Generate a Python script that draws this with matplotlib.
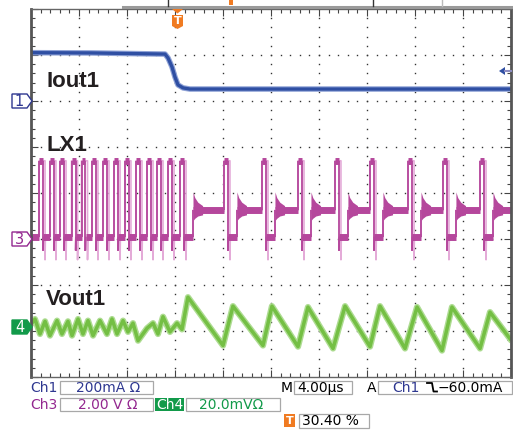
import numpy as np
import matplotlib.pyplot as plt
from matplotlib.collections import LineCollection
from matplotlib.patches import Rectangle, Polygon

W, H = 513, 434

# ---- data (time in us, 4 us/div) ----
# Iout1, ch1 200 mA/div
iout_t = [0.0, 5.0, 11.17, 11.42, 11.75, 12.0, 12.25, 12.67, 13.25, 40.0]
iout_ma = [210, 209, 204, 187, 148, 104, 70, 57, 52, 52]

# LX1, ch3 2 V/div
lx_ccm_rise = [0.67, 1.58, 2.42, 3.38, 4.21, 5.08, 6.0, 6.92, 7.83, 8.75, 9.67, 10.5, 11.42]
lx_dcm_rise = [12.42, 16.08, 19.25, 22.25, 25.33, 28.25, 31.42, 34.33, 37.42]
lx_on_us = 0.33
lx_dcm_low_us = 0.75
lx_high_v = 3.4
lx_low_v = 0.1
lx_idle_v = 1.25
lx_spike_v = -0.5
ring_dt = [0.0, 0.15, 0.4, 0.8]
ring_hi = [2.05, 1.8, 1.6, 1.45]
ring_lo = [0.8, 0.9, 1.0, 1.05]

# Vout1, ch4 20 mV/div
vout_t = [0, 0.33, 0.75, 1.17, 1.58, 2.17, 2.58, 3.08, 3.42, 3.92, 4.33, 4.75, 5.17, 5.75, 6.33,
          6.75, 7.17, 7.67, 8.08, 8.5, 8.92, 9.67, 10.17, 10.58, 11.0, 11.58, 12.17, 12.58, 13.08,
          16.0, 16.83, 19.33, 20.08, 22.25, 23.08, 25.17, 26.17, 28.25, 29.08, 31.17, 32.17,
          34.25, 35.08, 37.42, 38.25, 39.92]
vout_mv = [1.3, 3.6, -2.9, 2.6, -3.6, 2.9, -2.9, 2.6, -3.6, 3.6, -2.9, 2.9, -3.6, 2.9, -2.9,
           3.6, -2.9, 2.9, -2.0, 1.8, -5.8, -0.4, 1.8, -2.9, 4.6, -2.0, 1.8, -0.9, 13.1,
           -7.9, 9.2, -7.9, 9.2, -8.4, 8.8, -9.2, 9.2, -8.4, 9.2, -9.2, 8.8,
           -10.1, 8.8, -9.2, 6.6, -5.0]

# channel positions (div from bottom) and scales
ch1_off, ch1_scale = 6.0, 200.0
ch3_off, ch3_scale = 3.0, 2.0
ch4_off, ch4_scale = 1.08, 20.0

c_blue = '#2F4FA3'
c_mag = '#B5479C'
c_green = '#74BF44'
c_orange = '#F07B22'
c_ch1 = '#2E3790'
c_ch3 = '#93278F'
c_ch4 = '#129A4A'


def build_lx(on, spike):
    t, v = [0.0], [lx_low_v]
    for r in lx_ccm_rise:
        f = r + on
        t += [r, r, f, f, f + 0.03]
        v += [lx_low_v, lx_high_v, lx_high_v, spike, lx_low_v]
    level = lx_low_v
    rings = []
    for r in lx_dcm_rise:
        f = r + on
        s = r + lx_on_us + lx_dcm_low_us
        t += [r, r, f, f, f + 0.03, s, s]
        v += [level, lx_high_v, lx_high_v, spike, lx_low_v, lx_low_v, lx_idle_v]
        level = lx_idle_v
        rings.append(s)
    t.append(40.0)
    v.append(level)
    return np.array(t), np.array(v), rings


fig = plt.figure(figsize=(W / 100, H / 100), dpi=100)
ax = fig.add_axes([31 / W, 1 - 377 / H, 480 / W, 368 / H])
ax.set_xlim(0, 40)
ax.set_ylim(0, 8)

# graticule dots
dy = np.arange(0, 8.01, 0.2)
X, Y = np.meshgrid(np.arange(4, 40, 4), dy)
ax.plot(X.ravel(), Y.ravel(), ls='none', marker='s', ms=1.0, mew=0, color='#333333')
dx = np.arange(0, 40.01, 0.8)
X, Y = np.meshgrid(dx, np.arange(1, 8))
ax.plot(X.ravel(), Y.ravel(), ls='none', marker='s', ms=1.0, mew=0, color='#333333')

ax.set_xticks(np.arange(0, 40.1, 4))
ax.set_xticks(dx, minor=True)
ax.set_yticks(range(9))
ax.set_yticks(dy, minor=True)
ax.tick_params(which='both', direction='in', top=True, right=True,
               labelbottom=False, labelleft=False, color='#444444')
ax.tick_params(which='major', length=5, width=0.8)
ax.tick_params(which='minor', length=3, width=0.8)
for s in ['left', 'right']:
    ax.spines[s].set_linewidth(2)
    ax.spines[s].set_color('#555555')
for s in ['top', 'bottom']:
    ax.spines[s].set_linewidth(1)
    ax.spines[s].set_color('#666666')

# Iout1
iy = ch1_off + np.array(iout_ma) / ch1_scale
ax.plot(iout_t, iy, color='#8FA2D6', lw=4, solid_joinstyle='round')
ax.plot(iout_t, iy, color=c_blue, lw=2.4, solid_joinstyle='round')

# LX1
gt, gv, _ = build_lx(lx_on_us + 0.17, -0.9)
ax.plot(gt, ch3_off + gv / ch3_scale, color='#E4ABD8', lw=1.2)
lt, lv, rings = build_lx(lx_on_us, lx_spike_v)
ly = ch3_off + lv / ch3_scale
pts = np.column_stack([lt, ly])
segs = np.stack([pts[:-1], pts[1:]], axis=1)
lws = np.where(np.isclose(lv[:-1], lv[1:]), 5.0, 1.3)
ax.add_collection(LineCollection(segs, linewidths=lws, colors=c_mag, capstyle='butt'))
for s in rings:
    ax.fill_between(s + np.array(ring_dt), ch3_off + np.array(ring_lo) / ch3_scale,
                    ch3_off + np.array(ring_hi) / ch3_scale, color=c_mag, lw=0)

# Vout1
vy = ch4_off + np.array(vout_mv) / ch4_scale
ax.plot(vout_t, vy, color='#AEDC92', lw=4.5, solid_joinstyle='round')
ax.plot(vout_t, vy, color=c_green, lw=2.5, solid_joinstyle='round')


# ---- figure decorations in pixel coords ----
def fx(x):
    return x / W


def fy(y):
    return 1 - y / H


def line(xs, ys, **kw):
    fig.add_artist(plt.Line2D([fx(x) for x in xs], [fy(y) for y in ys],
                              transform=fig.transFigure, **kw))


def box(x0, y0, x1, y1, **kw):
    fig.add_artist(Rectangle((fx(x0), fy(y1)), (x1 - x0) / W, (y1 - y0) / H,
                             transform=fig.transFigure, **kw))


def poly(p, **kw):
    fig.add_artist(Polygon([(fx(x), fy(y)) for x, y in p], closed=True,
                           transform=fig.transFigure, **kw))


def txt(x, y, s, **kw):
    fig.text(fx(x), fy(y), s, **kw)


# header bar
line([123, 513], [6.5, 6.5], color='#9A9A9A', lw=2.2)
line([168, 168], [0, 6], color='#333333', lw=1)
line([373, 373], [0, 6], color='#333333', lw=1)
line([442, 442], [0, 6], color='#BBBBBB', lw=1)
box(229, 0, 233, 5, facecolor=c_orange, edgecolor='none')

# trigger marker
poly([(172, 9), (183, 9), (177.5, 13.5)], facecolor=c_orange, edgecolor='none')
poly([(172, 15), (183, 15), (183, 26), (177.5, 29), (172, 26)], facecolor=c_orange, edgecolor='none')
txt(177.5, 21.5, 'T', color='white', fontsize=8, fontweight='bold', ha='center', va='center')

# trigger level arrow
poly([(499, 71), (505, 67), (505, 75)], facecolor=c_blue, edgecolor='none')
line([505, 511], [71, 71], color='#8C8CC0', lw=1.5)

# channel markers
mk = dict(fontsize=10.5, ha='center', va='center', family='DejaVu Sans')
poly([(12, 94), (27, 94), (32, 101), (27, 108), (12, 108)], facecolor='white', edgecolor=c_ch1, lw=1)
txt(19.5, 101.5, '1', color=c_ch1, **mk)
poly([(12, 232), (27, 232), (32, 239), (27, 246), (12, 246)], facecolor='white', edgecolor=c_ch3, lw=1)
txt(19.5, 239.5, '3', color=c_ch3, **mk)
poly([(12, 320), (27, 320), (32, 327), (27, 334), (12, 334)], facecolor=c_ch4, edgecolor=c_ch4, lw=1)
txt(19.5, 327.5, '4', color='white', **mk)

# trace labels
lab = dict(fontsize=16, fontweight='bold', family='Liberation Sans', color='#231F20')
txt(46, 87, 'Iout1', **lab)
txt(46, 151, 'LX1', **lab)
txt(46, 305, 'Vout1', **lab)

# readout
rd = dict(fontsize=10, family='DejaVu Sans', va='center')
bx = dict(facecolor='white', edgecolor='#A8A8A8', lw=0.9)
txt(30, 388, 'Ch1', color=c_ch1, **rd)
box(60, 381, 153, 394, **bx)
txt(76, 388, '200mA Ω', color=c_ch1, **rd)
txt(30, 405, 'Ch3', color=c_ch3, **rd)
box(60, 398, 153, 411, **bx)
txt(78, 405, '2.00 V Ω', color=c_ch3, **rd)
box(155, 398, 184, 411, facecolor=c_ch4, edgecolor='none')
txt(156, 405, 'Ch4', color='white', **rd)
box(186, 398, 280, 411, **bx)
txt(199, 405, '20.0mVΩ', color=c_ch4, **rd)
txt(281, 388, 'M', color='black', **rd)
box(294, 381, 352, 394, **bx)
txt(297, 388, '4.00µs', color='black', **rd)
txt(367, 388, 'A', color='black', **rd)
box(378, 381, 512, 394, **bx)
txt(392, 388, 'Ch1', color=c_ch1, **rd)
line([427, 432, 433.5, 437], [383, 383, 391.5, 391.5], color='black', lw=1.3)
txt(438, 388, '\u221260.0mA', color='black', **rd)
box(284, 414, 295, 427, facecolor=c_orange, edgecolor='none')
txt(289.5, 421, 'T', color='white', fontsize=8, fontweight='bold', ha='center', va='center')
box(299, 414, 369, 428, **bx)
txt(302, 421, '30.40 %', color='black', **rd)

fig.savefig('out.png', dpi=100, facecolor='white')
